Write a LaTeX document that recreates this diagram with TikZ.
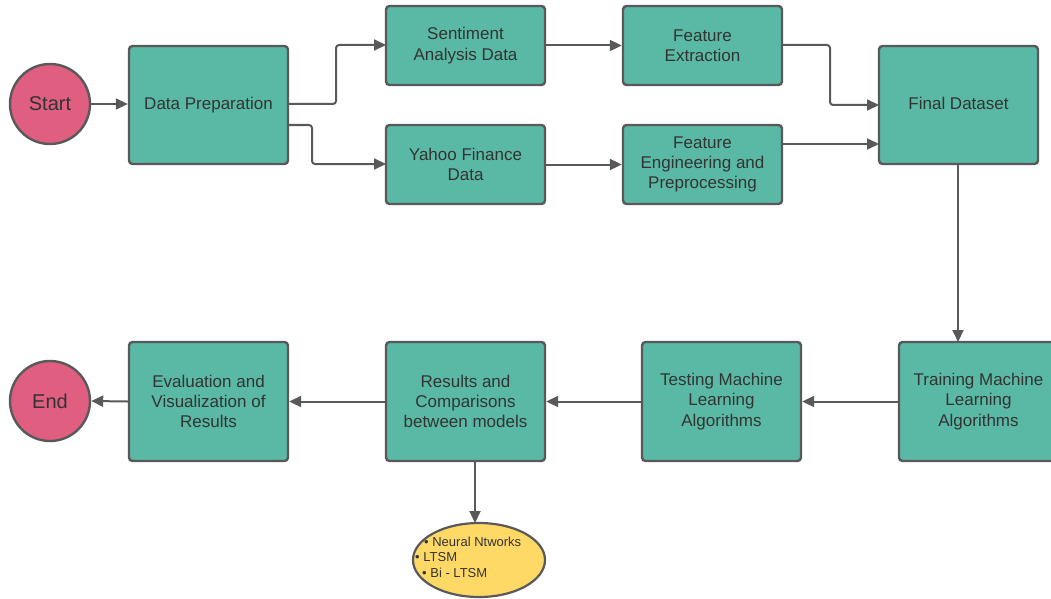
\documentclass[tikz,border=0pt]{standalone}
\usepackage{fontspec}
\setmainfont{Liberation Sans}
\usetikzlibrary{arrows.meta,shapes.geometric}
\definecolor{teal}{RGB}{90,185,165}
\definecolor{pinkc}{RGB}{224,94,128}
\definecolor{yel}{RGB}{255,217,102}
\definecolor{edge}{RGB}{89,89,89}
\definecolor{txt}{RGB}{51,51,51}
\tikzset{
  box/.style={draw=edge, line width=2.4pt, fill=teal, rounded corners=3.5pt, text=txt, align=center, font=\fontsize{17}{20.3}\selectfont, inner sep=0pt},
  term/.style={circle, draw=edge, line width=2.4pt, fill=pinkc, text=txt, minimum size=80pt, inner sep=0pt, font=\fontsize{20}{24}\selectfont},
  conn/.style={draw=edge, line width=2pt, -{Triangle[length=12pt,width=11pt]}, rounded corners=3pt}
}
\begin{document}
\begin{tikzpicture}[x=1pt,y=-1pt]
\clip (0,0) rectangle (1051,599);
\fill[white] (0,0) rectangle (1051,599);
\newcommand{\bx}[6]{\node[box, minimum width=#4-#2, minimum height=#5-#3] (#1) at ({(#2+#4)/2},{(#3+#5)/2}) {#6};}
\node[term] (start) at (50,104) {Start};
\node[term] (end) at (50,401) {End};
\bx{prep}{129}{46}{288}{164}{\raisebox{3pt}{Data Preparation}}
\bx{sent}{386}{6}{545}{85}{Sentiment\\Analysis Data}
\bx{fext}{623}{6}{782}{85}{Feature\\Extraction}
\bx{yahoo}{386}{125}{545}{204}{Yahoo Finance\\Data}
\bx{feng}{623}{125}{782}{204}{Feature\\Engineering and\\Preprocessing}
\bx{final}{879}{46}{1038}{164}{\raisebox{3pt}{Final Dataset}}
\bx{train}{899}{342}{1058}{461}{Training Machine\\Learning\\Algorithms}
\bx{test}{642}{342}{801}{461}{Testing Machine\\Learning\\Algorithms}
\bx{res}{386}{342}{545}{461}{Results and\\Comparisons\\between models}
\bx{eval}{129}{342}{288}{461}{Evaluation and\\Visualization of\\Results}
\node[ellipse, draw=edge, line width=2.2pt, fill=yel, minimum width=132pt, minimum height=74pt, inner sep=0pt] (ell) at (479,560) {};
\node[anchor=west, align=left, text=txt, font=\fontsize{13}{15.5}\selectfont, inner sep=0pt] (list) at (415,557) {\hspace{9pt}• Neural Ntworks\\• LTSM\\\hspace{7pt}• Bi - LTSM};
\coordinate (prepA) at (288,104);
\coordinate (prepB) at (288,125);
\coordinate (sentL) at (386,45);
\coordinate (yahooL) at (386,164);
\coordinate (fextR) at (782,45);
\coordinate (finalA) at (879,105);
\coordinate (fengR) at (782,144);
\coordinate (finalB) at (879,144);
\coordinate (finalS) at (958,164);
\coordinate (trainN) at (958,342);
\coordinate (resS) at (475,461);
\coordinate (ellN) at (475,523);
\draw[conn] (start.east) -- (prep.west |- start.east);
\draw[conn] (prepA) -- (336,104) -- (336,45) -- (sentL);
\draw[conn] (prepB) -- (312,125) -- (312,164) -- (yahooL);
\draw[conn] (sent.east) -- (fext.west);
\draw[conn] (yahoo.east) -- (feng.west);
\draw[conn] (fextR) -- (830,45) -- (830,105) -- (finalA);
\draw[conn] (fengR) -- (finalB);
\draw[conn] (finalS) -- (trainN);
\draw[conn] (train.west) -- (test.east);
\draw[conn] (test.west) -- (res.east);
\draw[conn] (res.west) -- (eval.east);
\draw[conn] (eval.west) -- (end.east);
\draw[conn] (resS) -- (ellN);
\end{tikzpicture}
\end{document}
